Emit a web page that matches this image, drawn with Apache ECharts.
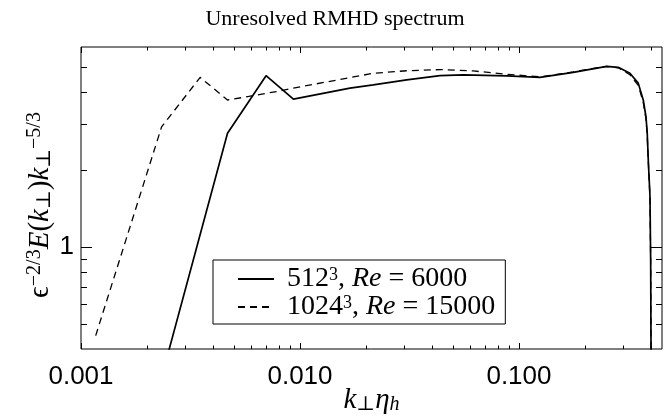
<!DOCTYPE html>
<html><head><meta charset="utf-8">
<script src="https://cdn.jsdelivr.net/npm/echarts@6/dist/echarts.min.js"></script>
<style>html,body{margin:0;padding:0;background:#fff}#c{width:670px;height:416px}</style>
</head><body><div id="c"></div>
<script>
// ---- data ----
const titleText = 'Unresolved RMHD spectrum';
const runRes = ['512', '1024'];
const runRe = ['6000', '15000'];

const kSolid = [0.002333, 0.004667, 0.007, 0.009333, 0.01692, 0.02162, 0.0307, 0.0436, 0.0557, 0.0879, 0.1247, 0.177, 0.2109, 0.2515, 0.2841, 0.3211, 0.3505, 0.3695, 0.3802, 0.3853, 0.3895, 0.3966, 0.3995, 0.401, 0.402];
const eSolid = [0.31, 2.77, 4.64, 3.76, 4.15, 4.27, 4.47, 4.64, 4.67, 4.63, 4.57, 4.78, 4.91, 5.04, 5.0, 4.74, 4.34, 3.73, 3.21, 2.77, 2.18, 1.57, 0.866, 0.40, 0.30];

const kDashed = [0.001167, 0.002333, 0.0035, 0.004667, 0.005833, 0.007, 0.008167, 0.009333, 0.01692, 0.02162, 0.0307, 0.0436, 0.0619, 0.0879, 0.1247, 0.177, 0.2109, 0.2515, 0.2841, 0.3211, 0.3505, 0.3695, 0.3802, 0.3853, 0.3895, 0.3966, 0.3995, 0.401, 0.402];
const eDashed = [0.451, 2.93, 4.57, 3.73, 3.85, 3.96, 4.05, 4.15, 4.56, 4.74, 4.85, 4.90, 4.84, 4.70, 4.59, 4.80, 4.93, 5.04, 4.98, 4.68, 4.25, 3.65, 3.15, 2.72, 2.15, 1.55, 0.86, 0.40, 0.30];

const xRange = [0.001, 0.45];
const yRange = [0.4, 6];
const xMajorTicks = [0.001, 0.01, 0.1];
const xTickLabels = ['0.001', '0.010', '0.100'];
const xMinorTicks = [0.002, 0.003, 0.004, 0.005, 0.006, 0.007, 0.008, 0.009, 0.02, 0.03, 0.04, 0.05, 0.06, 0.07, 0.08, 0.09, 0.2, 0.3, 0.4];
const yMajorTicks = [1];
const yTickLabels = ['1'];
const yMinorTicks = [0.5, 0.6, 0.7, 0.8, 0.9, 2, 3, 4, 5];

// ---- styles ----
const SERIF = '"Liberation Serif", "DejaVu Serif", serif';
const SANS = '"Liberation Sans", Arial, sans-serif';
const X_MAJOR_LEN = 6, X_MINOR_LEN = 3.5, Y_MAJOR_LEN = 11, Y_MINOR_LEN = 6;

const findTick = (ticks, v) => ticks.findIndex(t => Math.abs(Math.log10(t) - Math.log10(v)) < 1e-6);

const xTickData = xMajorTicks.map(v => [v, yRange[0], X_MAJOR_LEN]).concat(xMinorTicks.map(v => [v, yRange[0], X_MINOR_LEN]));
const yTickData = yMajorTicks.map(v => [xRange[0], v, Y_MAJOR_LEN]).concat(yMinorTicks.map(v => [xRange[0], v, Y_MINOR_LEN]));

const tickStyle = { stroke: '#000', lineWidth: 1 };

const chart = echarts.init(document.getElementById('c'), null, { renderer: 'canvas' });
const seriesNames = runRes.map((r, i) => r + '^3, Re = ' + runRe[i]);

chart.setOption({
  animation: false,
  backgroundColor: '#fff',
  title: {
    text: titleText, left: 'center', top: 3,
    textStyle: { fontFamily: SERIF, fontSize: 22, fontWeight: 'normal', color: '#000' }
  },
  grid: {
    left: 81, right: 8, top: 47, bottom: 67, show: true, borderColor: '#000', borderWidth: 1,
    backgroundColor: 'transparent', containLabel: false, outerBoundsMode: 'none'
  },
  legend: {
    data: seriesNames,
    orient: 'vertical', left: 213, top: 260,
    padding: [5, 10, 3, 24], itemGap: 0,
    itemWidth: 36, itemHeight: 14,
    borderColor: '#000', borderWidth: 1, backgroundColor: '#fff',
    selectedMode: false,
    itemStyle: { opacity: 0, color: 'rgba(0,0,0,0)', borderWidth: 0 },
    formatter: name => {
      const i = seriesNames.indexOf(name);
      return '{n|' + runRes[i] + '}{s|3}{n|, }{i|Re}{n| = ' + runRe[i] + '}';
    },
    textStyle: {
      padding: [0, 0, 0, 8],
      rich: {
        n: { fontFamily: SERIF, fontSize: 28, lineHeight: 25, color: '#000' },
        i: { fontFamily: SERIF, fontSize: 28, lineHeight: 25, fontStyle: 'italic', color: '#000' },
        s: { fontFamily: SERIF, fontSize: 18, lineHeight: 12, verticalAlign: 'top', color: '#000' }
      }
    }
  },
  xAxis: {
    type: 'log', logBase: 10, min: xRange[0], max: xRange[1],
    axisLine: { show: false }, axisTick: { show: false }, splitLine: { show: false }, minorTick: { show: false },
    axisLabel: {
      margin: 15, color: '#000', fontFamily: SANS, fontSize: 26,
      showMinLabel: true, showMaxLabel: true, hideOverlap: false,
      formatter: v => { const i = findTick(xMajorTicks, v); return i >= 0 ? xTickLabels[i] : ''; }
    },
    name: '{i|k}{b|⊥}{i|η}{b|h}',
    nameLocation: 'middle', nameGap: 36, nameMoveOverlap: false,
    nameTextStyle: {
      rich: {
        i: { fontFamily: SERIF, fontSize: 29, lineHeight: 30, fontStyle: 'italic', color: '#000' },
        b: { fontFamily: SERIF, fontSize: 20, lineHeight: 14, verticalAlign: 'bottom', fontStyle: 'italic', color: '#000' }
      }
    }
  },
  yAxis: {
    type: 'log', logBase: 10, min: yRange[0], max: yRange[1],
    axisLine: { show: false }, axisTick: { show: false }, splitLine: { show: false }, minorTick: { show: false },
    axisLabel: {
      margin: 7, color: '#000', fontFamily: SANS, fontSize: 26, padding: [7, 0, 0, 0],
      formatter: v => { const i = findTick(yMajorTicks, v); return i >= 0 ? yTickLabels[i] : ''; }
    },
    name: '{m|ϵ}{p|−2/3}{i|E}{m|(}{i|k}{b|⊥}{m|)}{i|k}{b|⊥}{p|−5/3}',
    nameLocation: 'middle', nameGap: 26, nameMoveOverlap: false,
    nameTextStyle: {
      padding: [0, 14, 0, 0],
      rich: {
        m: { fontFamily: SERIF, fontSize: 29, lineHeight: 30, color: '#000' },
        i: { fontFamily: SERIF, fontSize: 29, lineHeight: 30, fontStyle: 'italic', color: '#000' },
        p: { fontFamily: SERIF, fontSize: 20, lineHeight: 10, verticalAlign: 'top', color: '#000' },
        b: { fontFamily: SERIF, fontSize: 20, lineHeight: 14, verticalAlign: 'bottom', color: '#000' }
      }
    }
  },
  series: [
    {
      name: seriesNames[0], type: 'line', showSymbol: false, symbol: 'none', smooth: false,
      data: kSolid.map((k, i) => [k, eSolid[i]]),
      lineStyle: { color: '#000', width: 1.7, type: 'solid' }, itemStyle: { color: '#000' }, z: 3
    },
    {
      name: seriesNames[1], type: 'line', showSymbol: false, symbol: 'none', smooth: false,
      data: kDashed.map((k, i) => [k, eDashed[i]]),
      lineStyle: { color: '#000', width: 1.3, type: [7, 5] }, itemStyle: { color: '#000' }, z: 2
    },
    {
      type: 'custom', silent: true, clip: false, z: 5,
      data: xTickData,
      renderItem: (params, api) => {
        const x = api.value(0), len = api.value(2);
        const pb = api.coord([x, yRange[0]]), pt = api.coord([x, yRange[1]]);
        const xx = Math.round(pb[0]) + 0.5;
        return { type: 'group', children: [
          { type: 'line', shape: { x1: xx, y1: pb[1], x2: xx, y2: pb[1] - len }, style: tickStyle },
          { type: 'line', shape: { x1: xx, y1: pt[1], x2: xx, y2: pt[1] + len }, style: tickStyle }
        ]};
      }
    },
    {
      type: 'custom', silent: true, clip: false, z: 5,
      data: yTickData,
      renderItem: (params, api) => {
        const y = api.value(1), len = api.value(2);
        const pl = api.coord([xRange[0], y]), pr = api.coord([xRange[1], y]);
        const yy = Math.round(pl[1]) + 0.5;
        return { type: 'group', children: [
          { type: 'line', shape: { x1: pl[0], y1: yy, x2: pl[0] + len, y2: yy }, style: tickStyle },
          { type: 'line', shape: { x1: pr[0], y1: yy, x2: pr[0] - len, y2: yy }, style: tickStyle }
        ]};
      }
    }
  ]
});
</script>
</body></html>
